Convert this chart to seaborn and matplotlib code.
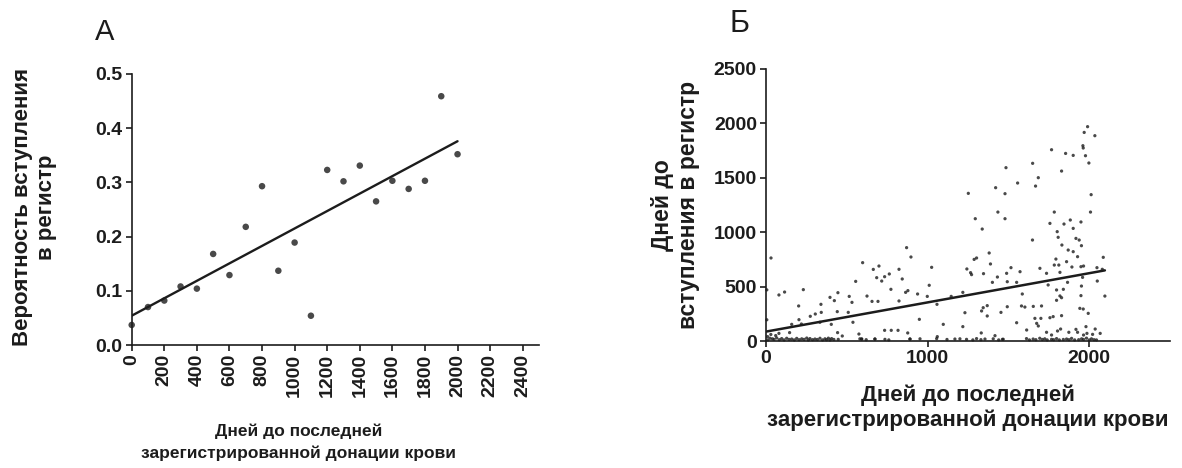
import matplotlib
matplotlib.use("Agg")
import matplotlib.pyplot as plt
import numpy as np
import pandas as pd
import seaborn as sns

# Panel A: share of donors joining the registry, by days since last donation
days_a = [0, 100, 200, 300, 400, 500, 600, 700, 800, 900, 1000,
          1100, 1200, 1300, 1400, 1500, 1600, 1700, 1800, 1900, 2000]
prob_a = [0.037, 0.070, 0.082, 0.108, 0.104, 0.168, 0.129, 0.218, 0.293, 0.137, 0.189,
          0.054, 0.323, 0.302, 0.331, 0.265, 0.303, 0.288, 0.303, 0.459, 0.352]

# Panel B: individual donors, days since last donation vs days until registry entry
days_b = [
    5, 5, 10, 30, 31, 60, 80, 80, 115, 146, 159, 202, 204, 219, 231, 274, 305, 334, 340, 342,
    396, 404, 423, 441, 443, 445, 472, 509, 515, 532, 538, 555, 575, 598, 625, 656, 664, 685,
    693, 699,
    716, 734, 763, 773, 823, 843, 870, 897, 864, 878, 823, 938, 998, 1010, 1025, 1058, 949,
    1097, 1060, 1146, 1218, 1231, 1218, 1243, 1266, 1272, 1288, 1303, 1338, 1346, 1381, 1389,
    1401, 1432, 1334, 1344, 1369, 1369, 1332, 1417, 734, 775, 817, 877, 592, 674, 891, 1252,
    1295,
    1649, 1802, 1808, 1831, 1870, 1901, 1901, 1918, 1938, 1952, 1928, 1794, 1784, 1812, 1860,
    1893, 1949, 1965, 2087, 2048, 2081, 1695, 1736, 1819, 1516, 1572, 1489, 1493, 1551, 1746,
    1866, 1959, 1952, 2050, 1798, 1840, 1586, 1819, 1829, 1798, 1949, 2097, 1493, 1454, 1581,
    1602, 1654, 1705, 1942, 1963, 1994, 1551, 1664, 1701, 1757, 1777, 1829, 1675, 1685, 1613,
    1736, 1767, 1804, 1823, 1874, 1918, 1928, 1980, 1986, 2021, 2037, 2068, 1965, 1463,
    1485, 1650, 1685, 1668, 1557, 1421, 1479, 1435, 1479, 1767, 1854, 1901, 1829, 1961, 1963,
    1969, 1990, 2035, 1977, 1998, 2012, 2008, 1784, 1757, 1844, 1883, 1949,
    # donors sitting on the zero line
    25, 40, 66, 97, 128, 159, 190, 221, 252, 272, 303, 334, 365, 386, 406, 447, 581, 592,
    674, 736, 891, 953, 1056, 1169, 1200, 1241, 1303, 1355, 1406, 1468, 1612, 1653, 1694,
    1725, 1767, 1798, 1860, 1891, 1953, 1983, 2014,
    12, 50, 82, 112, 143, 175, 205, 236, 262, 288, 318, 350, 375, 396, 420,
    620, 760, 1120, 1280, 1330, 1440,
    1630, 1670, 1710, 1740, 1780, 1815, 1840, 1875, 1910, 1935, 1965, 2000, 2030, 2045,
]
wait_b = [
    470, 195, 40, 60, 763, 50, 423, 70, 450, 77, 153, 322, 196, 156, 472, 227, 248, 172, 337,
    263, 401, 153, 371, 270, 77, 444, 46, 263, 410, 355, 172, 548, 64, 720, 413, 364, 658, 582,
    364, 689,
    551, 591, 616, 475, 659, 570, 858, 772, 447, 463, 368, 432, 410, 512, 677, 337, 199, 153,
    40, 410, 447, 260, 132, 662, 628, 610, 750, 763, 1029, 619, 809, 708, 539, 588, 276, 306,
    325, 230, 74, 49, 98, 98, 98, 74, 18, 18, 18, 1357, 1124,
    928, 1005, 953, 882, 836, 821, 1035, 943, 928, 876, 775, 753, 698, 698, 729, 680, 683, 689,
    769, 674, 659, 668, 622, 631, 674, 637, 622, 545, 539, 515, 539, 585, 505, 551, 469, 475,
    432, 414, 398, 374, 417, 413, 315, 263, 322, 312, 318, 322, 300, 294, 254, 168, 208, 208,
    214, 224, 233, 162, 138, 101, 80, 55, 92, 110, 80, 107, 80, 132, 70, 61, 110, 70, 55, 15,
    1593, 1633, 1501, 1424, 1452, 1409, 1354, 1185, 1124, 1758, 1724, 1706, 1562, 1795, 1774,
    1917, 1970, 1887, 1703, 1636, 1345, 1185, 1185, 1081, 1075, 1112, 1094,
    25, 20, 28, 22, 25, 18, 24, 20, 27, 22, 18, 25, 20, 26, 22, 15, 20, 18, 18, 15, 18, 20,
    22, 18, 20, 15, 22, 18, 20, 16, 22, 18, 25, 20, 15, 22, 18, 24, 20, 26, 20,
    10, 15, 12, 10, 14, 10, 12, 15, 10, 12, 14, 10, 12, 10, 14,
    12, 10, 14, 10, 12, 10,
    10, 12, 14, 10, 12, 10, 14, 12, 10, 12, 14, 10, 12, 10,
]

df_a = pd.DataFrame({"days": days_a, "prob": prob_a})
df_b = pd.DataFrame({"days": days_b, "wait": wait_b})

sns.set_theme(style="ticks")
plt.rcParams["font.family"] = ["Liberation Sans", "DejaVu Sans"]

INK = "#1c1c1c"
W, H = 1182, 468
fig = plt.figure(figsize=(W / 100, H / 100), dpi=100)

ax_a = fig.add_axes([131.7 / W, 1 - 345 / H, (539 - 131.7) / W, (345 - 74) / H])
ax_b = fig.add_axes([766 / W, 1 - 341 / H, (1170 - 766) / W, (341 - 69) / H])

sns.regplot(data=df_a, x="days", y="prob", ax=ax_a, ci=None, truncate=True,
            scatter_kws=dict(s=22, color=INK, edgecolor="none", clip_on=False),
            line_kws=dict(color=INK, lw=1.7))
sns.regplot(data=df_b, x="days", y="wait", ax=ax_b, ci=None, truncate=True,
            scatter_kws=dict(s=5.5, color=INK, edgecolor="none", clip_on=False),
            line_kws=dict(color=INK, lw=1.8))

tick_font = dict(fontsize=14, fontweight="bold", color=INK)

for ax in (ax_a, ax_b):
    sns.despine(ax=ax)
    for side in ("left", "bottom"):
        ax.spines[side].set_linewidth(1.2)
        ax.spines[side].set_color(INK)
    ax.tick_params(direction="out", length=4.5, width=1.2, color=INK, pad=2)
    ax.grid(False)

ax_a.set_xlim(0, 2500)
ax_a.set_ylim(0, 0.5)
ax_a.set_xticks(np.arange(0, 2401, 200))
ax_a.set_yticks(np.arange(0, 0.51, 0.1))
ax_a.set_xticklabels([str(v) for v in range(0, 2401, 200)], rotation=90, **tick_font)
ax_a.set_yticklabels([f"{v:.1f}" for v in np.arange(0, 0.51, 0.1)], **tick_font)
ax_a.set_xlabel("Дней до последней\nзарегистрированной донации крови",
                fontsize=12.5, fontweight="bold", color=INK, linespacing=1.55)
ax_a.xaxis.set_label_coords(0.41, -0.29)
ax_a.set_ylabel("Вероятность вступления\nв регистр",
                fontsize=16, fontweight="bold", color=INK, linespacing=1.2)
ax_a.yaxis.set_label_coords(-0.183, 0.509)

ax_b.set_xlim(0, 2500)
ax_b.set_ylim(0, 2500)
ax_b.set_xticks([0, 1000, 2000])
ax_b.set_yticks(np.arange(0, 2501, 500))
ax_b.set_xticklabels(["0", "1000", "2000"], **tick_font)
ax_b.set_yticklabels([str(v) for v in range(0, 2501, 500)], **tick_font)
ax_b.set_xlabel("Дней до последней\nзарегистрированной донации крови",
                fontsize=16, fontweight="bold", color=INK, linespacing=1.2)
ax_b.xaxis.set_label_coords(0.5, -0.16)
ax_b.set_ylabel("Дней до\nвступления в регистр",
                fontsize=16.5, fontweight="bold", color=INK, linespacing=1.15)
ax_b.yaxis.set_label_coords(-0.163, 0.5)

fig.text(95 / W, 1 - 40 / H, "А", fontsize=21, color=INK, ha="left", va="baseline")
fig.text(729 / W, 1 - 32 / H, "Б", fontsize=22, color=INK, ha="left", va="baseline")

fig.savefig("out.png", dpi=100, facecolor="white")
